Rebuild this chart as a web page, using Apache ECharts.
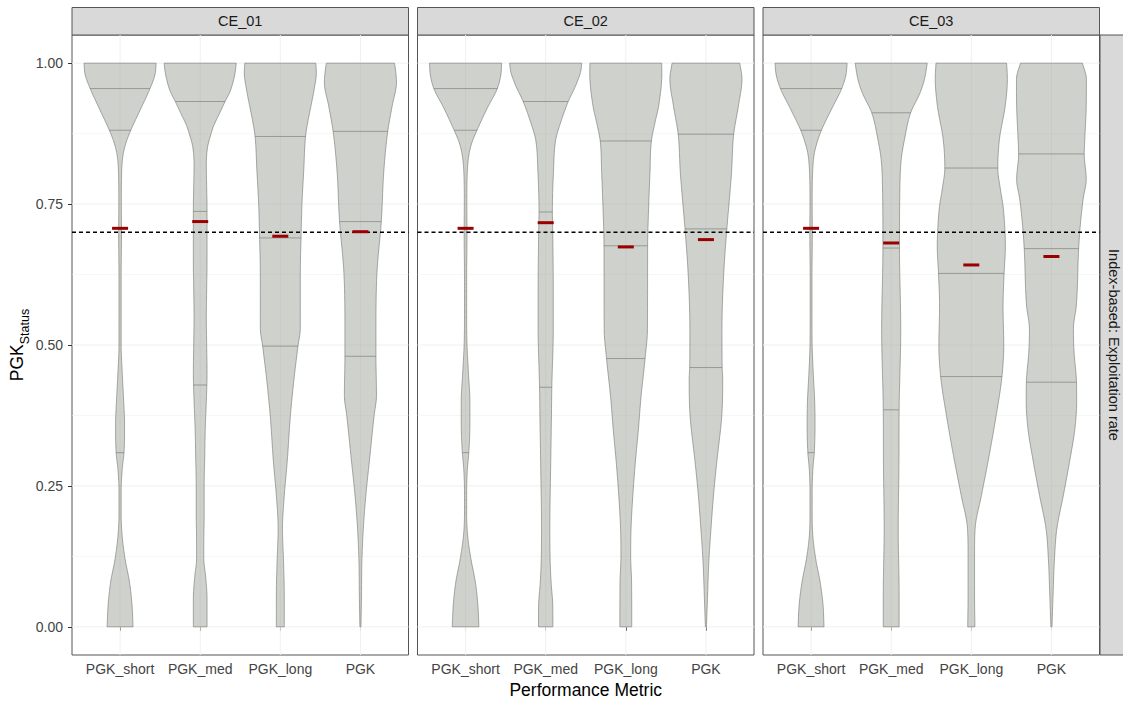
<!DOCTYPE html>
<html>
<head>
<meta charset="utf-8">
<script src="https://cdn.jsdelivr.net/npm/echarts@6/dist/echarts.min.js"></script>
<style>
  html, body { margin: 0; padding: 0; background: #ffffff; }
  #chart { width: 1123px; height: 704px; }
</style>
</head>
<body>
<div id="chart"></div>
<script>
// ---- data ---------------------------------------------------------------
const facetLabels = ['CE_01', 'CE_02', 'CE_03'];
const metricLabels = ['PGK_short', 'PGK_med', 'PGK_long', 'PGK'];
const rowLabel = 'Index-based: Exploitation rate';
const yTicks = [0, 0.25, 0.5, 0.75, 1];
const yTickLabels = ['0.00', '0.25', '0.50', '0.75', '1.00'];
const yMinorTicks = [0.125, 0.375, 0.625, 0.875];
const exploitationThreshold = 0.7;

// mean PGK status per metric (red bars)
const meansCE01 = [0.707, 0.719, 0.693, 0.701];
const meansCE02 = [0.707, 0.717, 0.674, 0.687];
const meansCE03 = [0.707, 0.681, 0.642, 0.657];

// 25 %, 50 %, 75 % quantiles per metric
const quartilesCE01 = [[0.309, 0.881, 0.955], [0.429, 0.737, 0.932], [0.498, 0.690, 0.870], [0.480, 0.719, 0.879]];
const quartilesCE02 = [[0.309, 0.881, 0.955], [0.425, 0.736, 0.932], [0.476, 0.676, 0.862], [0.460, 0.706, 0.874]];
const quartilesCE03 = [[0.309, 0.881, 0.955], [0.385, 0.672, 0.912], [0.444, 0.627, 0.814], [0.434, 0.671, 0.839]];

// kernel density profiles: [PGK status, density relative to the violin's maximum]
const densityCE01 = [
  [[0,0.36],[0.04,0.33],[0.08,0.26],[0.12,0.14],[0.16,0.06],[0.20,0.03],[0.24,0.03],[0.28,0.06],[0.31,0.11],[0.36,0.125],[0.40,0.10],[0.45,0.06],[0.50,0.03],[0.55,0.03],[0.62,0.03],[0.70,0.04],[0.75,0.035],[0.81,0.045],[0.84,0.09],[0.86,0.17],[0.88,0.29],[0.92,0.58],[0.955,0.83],[0.98,0.97],[1,1]],
  [[0,0.19],[0.05,0.19],[0.09,0.15],[0.12,0.10],[0.15,0.10],[0.20,0.11],[0.25,0.11],[0.30,0.125],[0.35,0.14],[0.40,0.17],[0.45,0.19],[0.50,0.18],[0.55,0.17],[0.60,0.18],[0.65,0.19],[0.70,0.19],[0.74,0.19],[0.78,0.18],[0.82,0.17],[0.853,0.21],[0.87,0.28],[0.889,0.375],[0.91,0.53],[0.932,0.69],[0.95,0.83],[0.98,0.96],[1,1]],
  [[0,0.11],[0.055,0.11],[0.115,0.09],[0.174,0.06],[0.233,0.11],[0.292,0.19],[0.375,0.28],[0.44,0.38],[0.498,0.49],[0.53,0.555],[0.63,0.555],[0.69,0.575],[0.75,0.60],[0.81,0.65],[0.87,0.70],[0.895,0.76],[0.924,0.85],[0.954,0.94],[0.983,1.0],[1,0.985]],
  [[0,0.015],[0.055,0.03],[0.115,0.04],[0.174,0.08],[0.233,0.15],[0.292,0.245],[0.375,0.38],[0.41,0.445],[0.48,0.43],[0.53,0.43],[0.63,0.46],[0.72,0.58],[0.81,0.65],[0.88,0.76],[0.924,0.88],[0.966,1.0],[0.99,0.97],[1,0.945]]
];
const densityCE02 = [
  [[0,0.37],[0.04,0.34],[0.08,0.27],[0.12,0.15],[0.16,0.06],[0.20,0.03],[0.24,0.03],[0.28,0.05],[0.31,0.09],[0.36,0.12],[0.40,0.12],[0.45,0.08],[0.50,0.04],[0.55,0.03],[0.62,0.03],[0.70,0.04],[0.75,0.035],[0.81,0.05],[0.84,0.10],[0.86,0.18],[0.88,0.31],[0.92,0.60],[0.955,0.88],[0.98,0.98],[1,1]],
  [[0,0.20],[0.04,0.195],[0.079,0.15],[0.115,0.125],[0.174,0.115],[0.292,0.14],[0.375,0.16],[0.425,0.17],[0.528,0.21],[0.60,0.21],[0.70,0.195],[0.736,0.185],[0.806,0.215],[0.865,0.28],[0.89,0.39],[0.932,0.625],[0.96,0.83],[0.985,0.97],[1,1]],
  [[0,0.165],[0.079,0.16],[0.126,0.135],[0.174,0.145],[0.233,0.195],[0.292,0.265],[0.351,0.35],[0.41,0.425],[0.476,0.535],[0.528,0.60],[0.676,0.605],[0.747,0.635],[0.806,0.67],[0.862,0.71],[0.895,0.81],[0.924,0.91],[0.983,1.0],[1,0.995]],
  [[0,0.015],[0.055,0.045],[0.115,0.08],[0.174,0.14],[0.233,0.21],[0.292,0.30],[0.375,0.44],[0.44,0.465],[0.46,0.45],[0.528,0.445],[0.629,0.495],[0.706,0.58],[0.747,0.635],[0.806,0.71],[0.874,0.77],[0.924,0.90],[0.972,1.0],[1,0.94]]
];
const densityCE03 = [
  [[0,0.36],[0.04,0.33],[0.08,0.25],[0.12,0.13],[0.16,0.05],[0.20,0.03],[0.24,0.03],[0.28,0.05],[0.31,0.09],[0.36,0.11],[0.40,0.10],[0.45,0.06],[0.50,0.03],[0.55,0.025],[0.62,0.025],[0.70,0.035],[0.75,0.03],[0.81,0.045],[0.84,0.09],[0.86,0.17],[0.88,0.28],[0.92,0.58],[0.955,0.85],[0.98,0.97],[1,1]],
  [[0,0.22],[0.055,0.22],[0.174,0.195],[0.292,0.215],[0.385,0.22],[0.528,0.265],[0.672,0.23],[0.777,0.24],[0.83,0.28],[0.865,0.37],[0.912,0.54],[0.948,0.805],[0.972,0.925],[1,1]],
  [[0,0.10],[0.055,0.09],[0.126,0.09],[0.174,0.105],[0.233,0.28],[0.292,0.46],[0.375,0.69],[0.444,0.85],[0.499,0.90],[0.57,0.88],[0.627,0.91],[0.676,0.945],[0.712,0.925],[0.747,0.88],[0.777,0.805],[0.814,0.735],[0.865,0.78],[0.924,0.94],[0.972,1.0],[1,0.98]],
  [[0,0.015],[0.055,0.045],[0.115,0.08],[0.174,0.15],[0.233,0.33],[0.292,0.50],[0.351,0.65],[0.40,0.70],[0.434,0.695],[0.49,0.625],[0.528,0.61],[0.57,0.69],[0.671,0.755],[0.712,0.80],[0.759,0.88],[0.794,0.965],[0.839,0.91],[0.865,0.925],[0.924,0.965],[0.972,0.97],[1,0.86]]
];

const facetMeans = [meansCE01, meansCE02, meansCE03];
const facetQuartiles = [quartilesCE01, quartilesCE02, quartilesCE03];
const facetDensity = [densityCE01, densityCE02, densityCE03];

// ---- layout & style -------------------------------------------------------
const panelLefts = [72, 417.5, 763];
const panelWidth = 336.5;
const panelTop = 35;
const panelHeight = 620;
const stripHeight = 27.5;
const halfWidth = 0.45;          // max violin half-width in category units
const meanHalf = 0.1;            // half-length of the mean bar
const violinFill = 'rgba(159,163,153,0.5)';
const violinStroke = 'rgba(120,124,116,0.8)';
const gridColor = '#f0f0f0';
const textFont = 'Liberation Sans, Arial, Helvetica, sans-serif';

// monotone cubic (Fritsch–Carlson) curve through a density profile
function monotoneCurve(pts) {
  const n = pts.length;
  const xs = pts.map(p => p[0]);
  const ys = pts.map(p => p[1]);
  const d = [];
  for (let i = 0; i < n - 1; i++) d.push((ys[i + 1] - ys[i]) / (xs[i + 1] - xs[i]));
  const m = new Array(n);
  m[0] = d[0];
  m[n - 1] = d[n - 2];
  for (let i = 1; i < n - 1; i++) m[i] = d[i - 1] * d[i] <= 0 ? 0 : (d[i - 1] + d[i]) / 2;
  for (let i = 0; i < n - 1; i++) {
    if (d[i] === 0) { m[i] = 0; m[i + 1] = 0; continue; }
    const a = m[i] / d[i], b = m[i + 1] / d[i], s = a * a + b * b;
    if (s > 9) { const t = 3 / Math.sqrt(s); m[i] = t * a * d[i]; m[i + 1] = t * b * d[i]; }
  }
  return function (x) {
    if (x <= xs[0]) return ys[0];
    if (x >= xs[n - 1]) return ys[n - 1];
    let i = 0;
    while (i < n - 2 && x > xs[i + 1]) i++;
    const h = xs[i + 1] - xs[i];
    const t = (x - xs[i]) / h, t2 = t * t, t3 = t2 * t;
    return (2 * t3 - 3 * t2 + 1) * ys[i] + (t3 - 2 * t2 + t) * h * m[i] +
           (-2 * t3 + 3 * t2) * ys[i + 1] + (t3 - t2) * h * m[i + 1];
  };
}

const chart = echarts.init(document.getElementById('chart'), null, { renderer: 'svg' });

const grids = [], xAxes = [], yAxes = [], series = [], graphics = [];

facetLabels.forEach((facet, f) => {
  grids.push({
    left: panelLefts[f], top: panelTop, width: panelWidth, height: panelHeight,
    show: true, borderColor: '#555555', borderWidth: 1, backgroundColor: '#ffffff',
    containLabel: false, outerBoundsMode: 'none'
  });
  xAxes.push({
    type: 'value', gridIndex: f, min: 0.4, max: 4.6,
    axisLine: { show: false },
    splitLine: { show: false },
    axisTick: { show: true, customValues: [1, 2, 3, 4], length: 4, lineStyle: { color: '#333333', width: 1 } },
    axisLabel: {
      show: true, customValues: [1, 2, 3, 4], margin: 7,
      formatter: v => metricLabels[Math.round(v) - 1] || '',
      color: '#444444', fontSize: 14, fontFamily: textFont
    },
    name: f === 1 ? 'Performance Metric' : '',
    nameLocation: 'middle', nameGap: 25,
    nameTextStyle: { color: '#000000', fontSize: 17.5, fontFamily: textFont }
  });
  yAxes.push({
    type: 'value', gridIndex: f, min: -0.05, max: 1.05,
    axisLine: { show: false },
    splitLine: { show: false },
    axisTick: { show: f === 0, customValues: yTicks, length: 4, lineStyle: { color: '#333333', width: 1 } },
    axisLabel: {
      show: f === 0, customValues: yTicks, margin: 9,
      formatter: v => yTickLabels[yTicks.findIndex(t => Math.abs(t - v) < 1e-6)] || '',
      color: '#444444', fontSize: 14, fontFamily: textFont
    }
  });

  // panel grid lines
  series.push({
    type: 'custom', xAxisIndex: f, yAxisIndex: f, z: 1, silent: true,
    data: [[0]],
    renderItem: (params, api) => {
      const cs = params.coordSys;
      const children = [];
      yMinorTicks.forEach(v => {
        const y = api.coord([1, v])[1];
        children.push({ type: 'line', shape: { x1: cs.x, y1: y, x2: cs.x + cs.width, y2: y },
          style: { stroke: gridColor, lineWidth: 0.6 } });
      });
      yTicks.forEach(v => {
        const y = api.coord([1, v])[1];
        children.push({ type: 'line', shape: { x1: cs.x, y1: y, x2: cs.x + cs.width, y2: y },
          style: { stroke: gridColor, lineWidth: 1 } });
      });
      metricLabels.forEach((m, k) => {
        const x = api.coord([k + 1, 0])[0];
        children.push({ type: 'line', shape: { x1: x, y1: cs.y, x2: x, y2: cs.y + cs.height },
          style: { stroke: gridColor, lineWidth: 1 } });
      });
      return { type: 'group', children };
    }
  });

  // violins with quartile lines
  series.push({
    type: 'custom', xAxisIndex: f, yAxisIndex: f, z: 2, silent: true,
    data: metricLabels.map((m, k) => [k + 1]),
    renderItem: (params, api) => {
      const k = params.dataIndex;
      const centre = k + 1;
      const profile = facetDensity[f][k];
      const curve = monotoneCurve(profile);
      const lo = profile[0][0], hi = profile[profile.length - 1][0];
      const steps = 240;
      const left = [], right = [];
      for (let s = 0; s <= steps; s++) {
        const v = lo + (hi - lo) * s / steps;
        const w = Math.max(curve(v), 0.012) * halfWidth;
        left.push(api.coord([centre - w, v]));
        right.push(api.coord([centre + w, v]));
      }
      const points = left.concat(right.reverse());
      const children = [{
        type: 'polygon', shape: { points },
        style: { fill: violinFill, stroke: violinStroke, lineWidth: 0.8 }
      }];
      facetQuartiles[f][k].forEach(q => {
        const w = Math.max(curve(q), 0.012) * halfWidth;
        const p1 = api.coord([centre - w, q]);
        const p2 = api.coord([centre + w, q]);
        children.push({ type: 'line', shape: { x1: p1[0], y1: p1[1], x2: p2[0], y2: p2[1] },
          style: { stroke: violinStroke, lineWidth: 0.8 } });
      });
      return { type: 'group', children };
    }
  });

  // exploitation threshold (dashed)
  series.push({
    type: 'custom', xAxisIndex: f, yAxisIndex: f, z: 3, silent: true,
    data: [[1, exploitationThreshold]],
    renderItem: (params, api) => {
      const cs = params.coordSys;
      const y = api.coord([1, api.value(1)])[1];
      return { type: 'line', shape: { x1: cs.x, y1: y, x2: cs.x + cs.width, y2: y },
        style: { stroke: '#000000', lineWidth: 1.3, lineDash: [4, 3] } };
    }
  });

  // mean bars
  series.push({
    type: 'custom', xAxisIndex: f, yAxisIndex: f, z: 4, silent: true,
    data: facetMeans[f].map((v, k) => [k + 1, v]),
    renderItem: (params, api) => {
      const x = api.value(0), v = api.value(1);
      const p1 = api.coord([x - meanHalf, v]);
      const p2 = api.coord([x + meanHalf, v]);
      return { type: 'line', shape: { x1: p1[0], y1: p1[1], x2: p2[0], y2: p2[1] },
        style: { stroke: '#9a0000', lineWidth: 3 } };
    }
  });

  // facet strip
  graphics.push({
    type: 'rect', silent: true,
    shape: { x: panelLefts[f], y: panelTop - stripHeight, width: panelWidth, height: stripHeight },
    style: { fill: '#d9d9d9', stroke: '#555555', lineWidth: 1 }
  });
  graphics.push({
    type: 'text', silent: true,
    x: panelLefts[f] + panelWidth / 2, y: panelTop - stripHeight / 2,
    style: { text: facet, fill: '#1a1a1a', fontSize: 14.5, fontFamily: textFont, align: 'center', verticalAlign: 'middle' }
  });
});

// row strip on the right
graphics.push({
  type: 'rect', silent: true,
  shape: { x: 1100, y: panelTop, width: 30, height: panelHeight },
  style: { fill: '#d9d9d9', stroke: '#555555', lineWidth: 1 }
});
graphics.push({
  type: 'text', silent: true,
  x: 1114, y: panelTop + panelHeight / 2, rotation: -Math.PI / 2,
  style: { text: rowLabel, fill: '#1a1a1a', fontSize: 14.5, fontFamily: textFont, align: 'center', verticalAlign: 'middle' }
});

// y axis title with subscript
graphics.push({
  type: 'text', silent: true,
  x: 18, y: panelTop + panelHeight / 2, rotation: Math.PI / 2,
  style: {
    text: '{a|PGK}{b|Status}',
    align: 'center', verticalAlign: 'middle',
    rich: {
      a: { fontSize: 17.5, fontFamily: textFont, fill: '#000000', verticalAlign: 'bottom', lineHeight: 26, padding: [0, 0, 5, 0] },
      b: { fontSize: 12.5, fontFamily: textFont, fill: '#000000', verticalAlign: 'bottom', lineHeight: 16 }
    }
  }
});

chart.setOption({
  animation: false,
  backgroundColor: '#ffffff',
  grid: grids,
  xAxis: xAxes,
  yAxis: yAxes,
  series: series,
  graphic: graphics
});
</script>
</body>
</html>
